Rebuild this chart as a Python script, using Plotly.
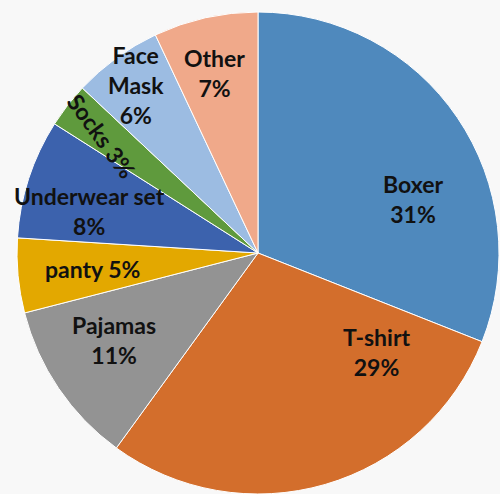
import math
import plotly.graph_objects as go

# Data
categories = ["Boxer", "T-shirt", "Pajamas", "panty", "Underwear set", "Socks", "Face Mask", "Other"]
values = [31, 29, 11, 5, 8, 3, 6, 7]
label_text = ["Boxer<br>31%", "T-shirt<br>29%", "Pajamas<br>11%", "panty 5%",
              "Underwear set<br>8%", "Socks 3%", "Face<br>Mask<br>6%", "Other<br>7%"]

# Styling
colors = ["#4F89BD", "#D36E2C", "#939393", "#E3A800", "#3C62AD", "#5F9A3D", "#9CBCE2", "#F0A98A"]
label_rfrac = [0.68, 0.64, 0.70, 0.69, 0.72, 0.81, 0.86, 0.77]
label_dtheta = [15, -34, 3, 0, -4, -1, 0, -1]
label_angle = [0, 0, 0, 0, 0, 54, 0, 0]

W, H = 500, 494
R = 241
cx, cy = 258, H - R  # pixel coords (from top)

fig = go.Figure(go.Pie(
    labels=categories, values=values, sort=False, direction="clockwise", rotation=0,
    marker=dict(colors=colors, line=dict(color="white", width=1)),
    textinfo="none", hoverinfo="label+percent", showlegend=False,
    domain=dict(x=[(cx - R) / W, (cx + R) / W], y=[0, 2 * R / H]),
))

total = sum(values)
cum = 0
for i, v in enumerate(values):
    mid = (cum + v / 2) / total * 360
    cum += v
    th = math.radians(mid + label_dtheta[i])
    r = label_rfrac[i] * R
    px = cx + r * math.sin(th)
    py = cy - r * math.cos(th)
    fig.add_annotation(x=px / W, y=1 - py / H, xref="paper", yref="paper",
                       text="<b>" + label_text[i].replace("<br>", "</b><br><b>") + "</b>",
                       showarrow=False, textangle=label_angle[i],
                       font=dict(family="Lato", size=23, color="#111111"),
                       xanchor="center", yanchor="middle")

fig.update_layout(width=W, height=H, margin=dict(l=0, r=0, t=0, b=0),
                  paper_bgcolor="#F8F8F8", plot_bgcolor="#F8F8F8",
                  font=dict(family="Lato"))
fig.write_html("out.html")
